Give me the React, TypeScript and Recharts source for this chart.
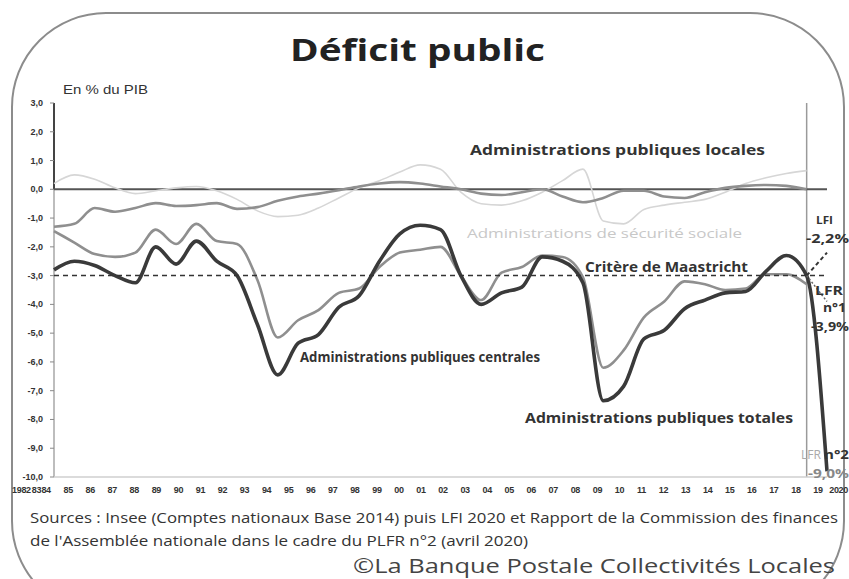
import React from "react";
import { LineChart, Line, XAxis, YAxis, ReferenceLine } from "recharts";

const years = ["1982","83","84","85","86","87","88","89","90","91","92","93","94","95","96","97","98","99","00","01","02","03","04","05","06","07","08","09","10","11","12","13","14","15","16","17","18","19","2020"];

const total = [-2.8,-2.5,-2.65,-3.0,-3.25,-2.0,-2.6,-1.8,-2.5,-3.0,-4.7,-6.45,-5.35,-5.05,-4.1,-3.7,-2.5,-1.55,-1.25,-1.4,-3.0,-4.0,-3.6,-3.4,-2.35,-2.5,-3.25,-7.35,-6.85,-5.2,-4.9,-4.15,-3.85,-3.6,-3.55,-2.85,-2.3,-3.0,-9.8];
const central = [-1.45,-1.85,-2.25,-2.35,-2.2,-1.4,-1.9,-1.2,-1.8,-1.9,-3.15,-5.15,-4.55,-4.2,-3.6,-3.45,-2.7,-2.2,-2.1,-2.0,-3.0,-3.85,-2.9,-2.7,-2.3,-2.35,-3.05,-6.2,-5.6,-4.45,-3.9,-3.2,-3.3,-3.5,-3.45,-2.95,-2.95,-3.3,null];
const local = [-1.3,-1.2,-0.65,-0.78,-0.65,-0.48,-0.58,-0.55,-0.48,-0.68,-0.62,-0.4,-0.25,-0.15,-0.03,0.1,0.2,0.25,0.2,0.1,0.0,-0.15,-0.2,-0.1,0.0,-0.25,-0.45,-0.3,-0.05,-0.05,-0.25,-0.3,-0.1,0.05,0.12,0.15,0.12,0.0,null];
const social = [0.2,0.5,0.35,0.05,-0.15,-0.05,0.05,0.1,-0.05,-0.35,-0.75,-0.95,-0.9,-0.65,-0.3,0.05,0.3,0.6,0.85,0.7,-0.1,-0.5,-0.55,-0.4,-0.1,0.3,0.7,-1.1,-1.2,-0.7,-0.55,-0.45,-0.35,-0.1,0.2,0.4,0.55,0.65,null];

const lfiYears = ["19", "2020"];
const lfiValues = [-3.0, -2.2];
const lfr1Years = ["19", "2020"];
const lfr1Values = [-3.0, -3.9];

const yTicks = [3, 2, 1, 0, -1, -2, -3, -4, -5, -6, -7, -8, -9, -10];
const maastricht = -3;

const data = years.map((year, i) => ({
  year,
  total: total[i],
  central: central[i],
  local: local[i],
  social: social[i],
  lfi: lfiYears.indexOf(year) >= 0 ? lfiValues[lfiYears.indexOf(year)] : null,
  lfr1: lfr1Years.indexOf(year) >= 0 ? lfr1Values[lfr1Years.indexOf(year)] : null,
}));

const fmt = (v: number) => v.toFixed(1).replace(".", ",");

const YTick = (props: any) => {
  const { x, y, payload } = props;
  return (
    <g>
      <line x1={x + 48} x2={x + 52} y1={y} y2={y} stroke="#888" strokeWidth={1} />
      <text x={x + 41} y={y + 3} textAnchor="end" fontSize={9} fontWeight="bold" fontFamily="Liberation Sans" fill="#333">
        {fmt(payload.value)}
      </text>
    </g>
  );
};

const XTick = (props: any) => {
  const { x, y, payload, index } = props;
  const last = years.length - 1;
  const anchor = index === 0 ? "start" : index === last ? "end" : "middle";
  const dx = index === 0 ? 10 : index === 1 ? 12.5 : index === last ? 8 : 0;
  return (
    <text x={x + dx} y={y + 16} textAnchor={anchor} fontSize={9} fontWeight="bold" fontFamily="Liberation Sans" fill="#333" letterSpacing={-0.3}>
      {payload.value}
    </text>
  );
};

const font = "'Open Sans', 'DejaVu Sans', sans-serif";

export default function App() {
  return (
    <div style={{ position: "absolute", left: 0, top: 0, width: 849, height: 579, overflow: "hidden", background: "#fff" }}>
      <div style={{ position: "absolute", left: 11, top: 12, width: 830, height: 600, border: "2px solid #8c8c8c", borderRadius: 95 }} />
      <div style={{ position: "absolute", left: 0, top: 0 }}>
        <LineChart width={849} height={579} data={data} margin={{ top: 103, right: 9, bottom: 82, left: 2 }}>
          <XAxis xAxisId="d" dataKey="year" hide height={0} padding={{ left: 52, right: 13 }} />
          <XAxis xAxisId="l" dataKey="year" interval={0} axisLine={false} tickLine={false} tickSize={0} tickMargin={0} height={20} tick={(p: any) => <XTick {...p} />} />
          <YAxis mirror domain={[-10, 3]} ticks={yTicks} interval={0} axisLine={false} tickLine={false} tickSize={0} tickMargin={0} tick={(p: any) => <YTick {...p} />} />
          <ReferenceLine xAxisId="d" x="1982" stroke="#bdbdbd" strokeWidth={2} />
          <ReferenceLine xAxisId="d" segment={[{ x: "1982", y: 0 }, { x: "1982", y: 3 }]} stroke="#444" strokeWidth={2} />
          <ReferenceLine xAxisId="d" x="19" stroke="#9a9a9a" strokeWidth={1.5} />
          <ReferenceLine xAxisId="d" segment={[{ x: "1982", y: -10 }, { x: "2020", y: -10 }]} stroke="#cfcfcf" strokeWidth={1.5} />
          <ReferenceLine xAxisId="d" segment={[{ x: "1982", y: 0 }, { x: "2020", y: 0 }]} stroke="#555" strokeWidth={2} />
          <Line xAxisId="d" dataKey="social" type="monotone" stroke="#d6d6d6" strokeWidth={1.6} dot={false} isAnimationActive={false} />
          <Line xAxisId="d" dataKey="local" type="monotone" stroke="#8f8f8f" strokeWidth={2.6} dot={false} isAnimationActive={false} />
          <Line xAxisId="d" dataKey="central" type="monotone" stroke="#8f8f8f" strokeWidth={2.6} dot={false} isAnimationActive={false} />
          <Line xAxisId="d" dataKey="total" type="monotone" stroke="#3a3a3a" strokeWidth={3.6} dot={false} isAnimationActive={false} />
          <Line xAxisId="d" dataKey="lfi" type="linear" stroke="#333" strokeWidth={2} strokeDasharray="4 3" dot={false} isAnimationActive={false} />
          <Line xAxisId="d" dataKey="lfr1" type="linear" stroke="#666" strokeWidth={1.5} strokeDasharray="2 2" dot={false} isAnimationActive={false} />
          <ReferenceLine xAxisId="d" segment={[{ x: "1982", y: maastricht }, { x: "2020", y: maastricht }]} stroke="#333" strokeWidth={1.5} strokeDasharray="5 4" />
        </LineChart>
      </div>
      <svg width={849} height={579} style={{ position: "absolute", left: 0, top: 0, pointerEvents: "none" }} fontFamily={font}>
        <text x={290} y={61} fontSize={30} fontWeight="bold" fill="#222" textLength={255} lengthAdjust="spacingAndGlyphs">Déficit public</text>
        <text x={63} y={94} fontSize={12} fontFamily="Liberation Sans" fill="#333" textLength={85} lengthAdjust="spacingAndGlyphs">En % du PIB</text>
        <text x={470} y={155} fontSize={14} fontWeight="bold" fill="#333" textLength={295} lengthAdjust="spacingAndGlyphs">Administrations publiques locales</text>
        <text x={467} y={238} fontSize={13} fill="#c8c8c8" textLength={275} lengthAdjust="spacingAndGlyphs">Administrations de sécurité sociale</text>
        <text x={585} y={272} fontSize={14} fontWeight="bold" fill="#333" textLength={163} lengthAdjust="spacingAndGlyphs">Critère de Maastricht</text>
        <text x={300} y={362} fontSize={14} fontWeight="bold" fill="#333" textLength={240} lengthAdjust="spacingAndGlyphs">Administrations publiques centrales</text>
        <text x={525} y={423} fontSize={14} fontWeight="bold" fill="#333" textLength={268} lengthAdjust="spacingAndGlyphs">Administrations publiques totales</text>
        <text x={816} y={224} fontSize={11} fontWeight="bold" fill="#333" textLength={17} lengthAdjust="spacingAndGlyphs">LFI</text>
        <text x={806} y={243} fontSize={12} fontWeight="bold" fill="#333" textLength={43} lengthAdjust="spacingAndGlyphs">-2,2%</text>
        <text x={815} y={295} fontSize={12} fontWeight="bold" fill="#333" textLength={28} lengthAdjust="spacingAndGlyphs">LFR</text>
        <text x={823} y={312} fontSize={12} fontWeight="bold" fill="#333" textLength={23} lengthAdjust="spacingAndGlyphs">n°1</text>
        <text x={811} y={331} fontSize={12} fontWeight="bold" fill="#333" textLength={38} lengthAdjust="spacingAndGlyphs">-3,9%</text>
        <text x={801} y={459} fontSize={12} fill="#aaa" textLength={20} lengthAdjust="spacingAndGlyphs">LFR</text>
        <text x={824} y={459} fontSize={12} fontWeight="bold" fill="#333" textLength={25} lengthAdjust="spacingAndGlyphs">n°2</text>
        <text x={808} y={478} fontSize={12} fontWeight="bold" fill="#888" textLength={41} lengthAdjust="spacingAndGlyphs">-9,0%</text>
        <text x={30} y={523} fontSize={15} fill="#333" textLength={808} lengthAdjust="spacingAndGlyphs">Sources : Insee (Comptes nationaux Base 2014) puis LFI 2020 et Rapport de la Commission des finances</text>
        <text x={30} y={546} fontSize={15} fill="#333" textLength={498} lengthAdjust="spacingAndGlyphs">de l'Assemblée nationale dans le cadre du PLFR n°2 (avril 2020)</text>
        <text x={353} y={573} fontSize={20} fill="#444" textLength={482} lengthAdjust="spacingAndGlyphs">©La Banque Postale Collectivités Locales</text>
      </svg>
    </div>
  );
}
